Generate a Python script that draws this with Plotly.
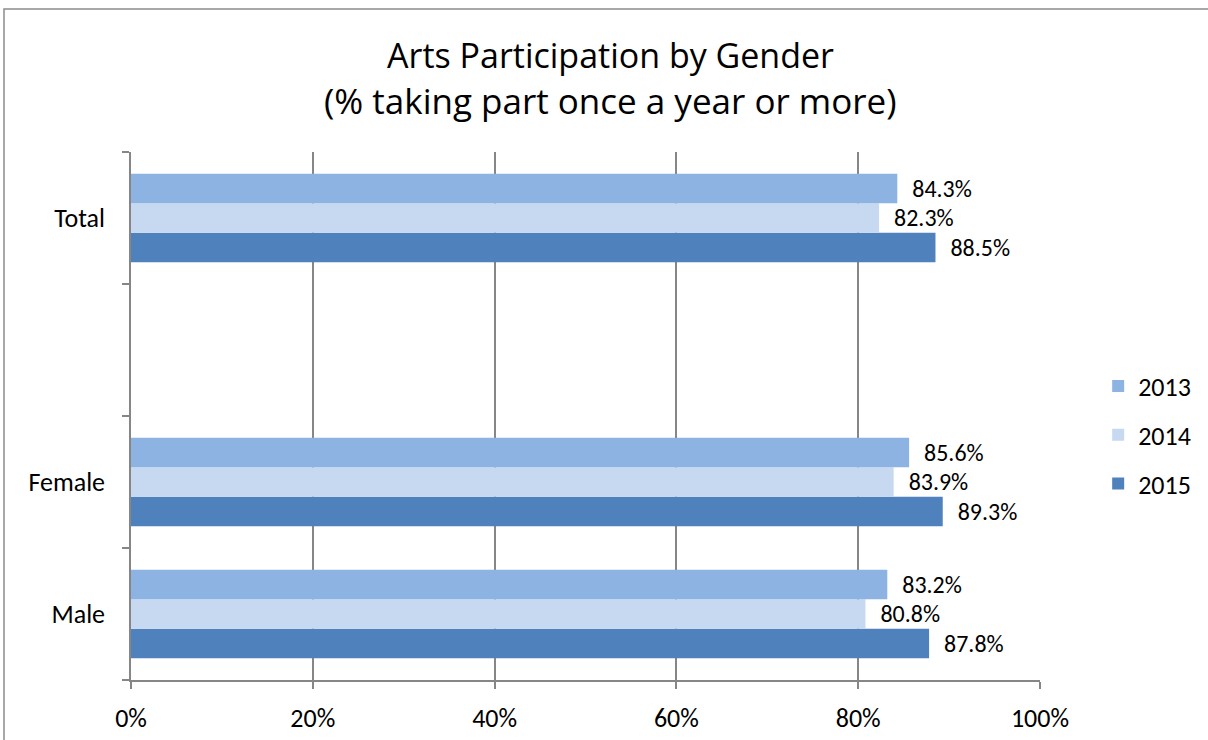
import plotly.graph_objects as go

# Category slots from bottom to top; the blank slot separates Total from the genders
categories = ["Male", "Female", " ", "Total"]
bar_categories = ["Male", "Female", "Total"]

years = ["2013", "2014", "2015"]
values_2013 = [83.2, 85.6, 84.3]
values_2014 = [80.8, 83.9, 82.3]
values_2015 = [87.8, 89.3, 88.5]

colors = {"2013": "#8DB3E2", "2014": "#C6D9F1", "2015": "#4F81BD"}
series = {"2013": values_2013, "2014": values_2014, "2015": values_2015}

x_ticks = [0, 20, 40, 60, 80, 100]
x_tick_labels = ["0%", "20%", "40%", "60%", "80%", "100%"]

label_font = "Carlito, Lato, 'Liberation Sans', sans-serif"
title_font = "'Open Sans', sans-serif"

fig = go.Figure()

# Plotly stacks grouped horizontal bars bottom-up in trace order,
# so add 2015 first to get 2013 on top of each group.
for year in reversed(years):
    vals = series[year]
    fig.add_trace(go.Bar(
        y=bar_categories,
        x=vals,
        orientation="h",
        name=year,
        legendgroup=year,
        legendrank=years.index(year) + 1,
        marker=dict(color=colors[year], line=dict(width=0)),
        text=[f"\u2002{v:.1f}%" for v in vals],
        textposition="outside",
        textfont=dict(family=label_font, size=26, color="#000000"),
        cliponaxis=False,
        hoverinfo="x+name",
    ))

grey = "#868686"

fig.update_layout(
    width=1208,
    height=740,
    margin=dict(l=131, r=168, t=152, b=60, autoexpand=False),
    paper_bgcolor="#FFFFFF",
    plot_bgcolor="#FFFFFF",
    barmode="group",
    bargap=0.33,
    bargroupgap=0,
    showlegend=True,
    legend=dict(
        traceorder="grouped",
        x=1.064,
        y=0.464,
        xanchor="left",
        yanchor="middle",
        font=dict(family=label_font, size=26, color="#000000"),
        tracegroupgap=12,
        itemwidth=30,
    ),
    xaxis=dict(
        range=[0, 100],
        tickvals=x_ticks,
        ticktext=x_tick_labels,
        showgrid=True,
        gridcolor=grey,
        gridwidth=1.5,
        showline=True,
        linecolor=grey,
        linewidth=1.5,
        ticks="outside",
        ticklen=7,
        tickcolor=grey,
        tickwidth=1.5,
        tickfont=dict(family=label_font, size=26, color="#000000"),
        ticklabelstandoff=7,
        zeroline=False,
        automargin=False,
        fixedrange=True,
    ),
    yaxis=dict(
        type="category",
        categoryorder="array",
        categoryarray=categories,
        range=[-0.5, 3.5],
        tickson="boundaries",
        showgrid=False,
        showline=True,
        linecolor=grey,
        linewidth=1.5,
        ticks="outside",
        ticklen=7,
        tickcolor=grey,
        tickwidth=1.5,
        tickfont=dict(family=label_font, size=26, color="#000000"),
        ticklabelstandoff=19,
        automargin=False,
        fixedrange=True,
    ),
    annotations=[
        dict(
            text="Arts Participation by Gender",
            xref="paper", yref="paper",
            x=0.527, y=(680 - 55) / 528,
            xanchor="center", yanchor="middle",
            showarrow=False,
            font=dict(family=title_font, size=34, color="#000000"),
        ),
        dict(
            text="(% taking part once a year or more)",
            xref="paper", yref="paper",
            x=0.527, y=(680 - 101) / 528,
            xanchor="center", yanchor="middle",
            showarrow=False,
            font=dict(family=title_font, size=35, color="#000000"),
        ),
    ],
    shapes=[
        dict(
            type="rect",
            xref="paper", yref="paper",
            x0=(4 - 131) / 909, x1=(1220 - 131) / 909,
            y0=(680 - 760) / 528, y1=(680 - 9) / 528,
            line=dict(color="#8C8C8C", width=1.5),
            fillcolor="rgba(0,0,0,0)",
            layer="below",
        )
    ],
)

fig.write_html("out.html")
